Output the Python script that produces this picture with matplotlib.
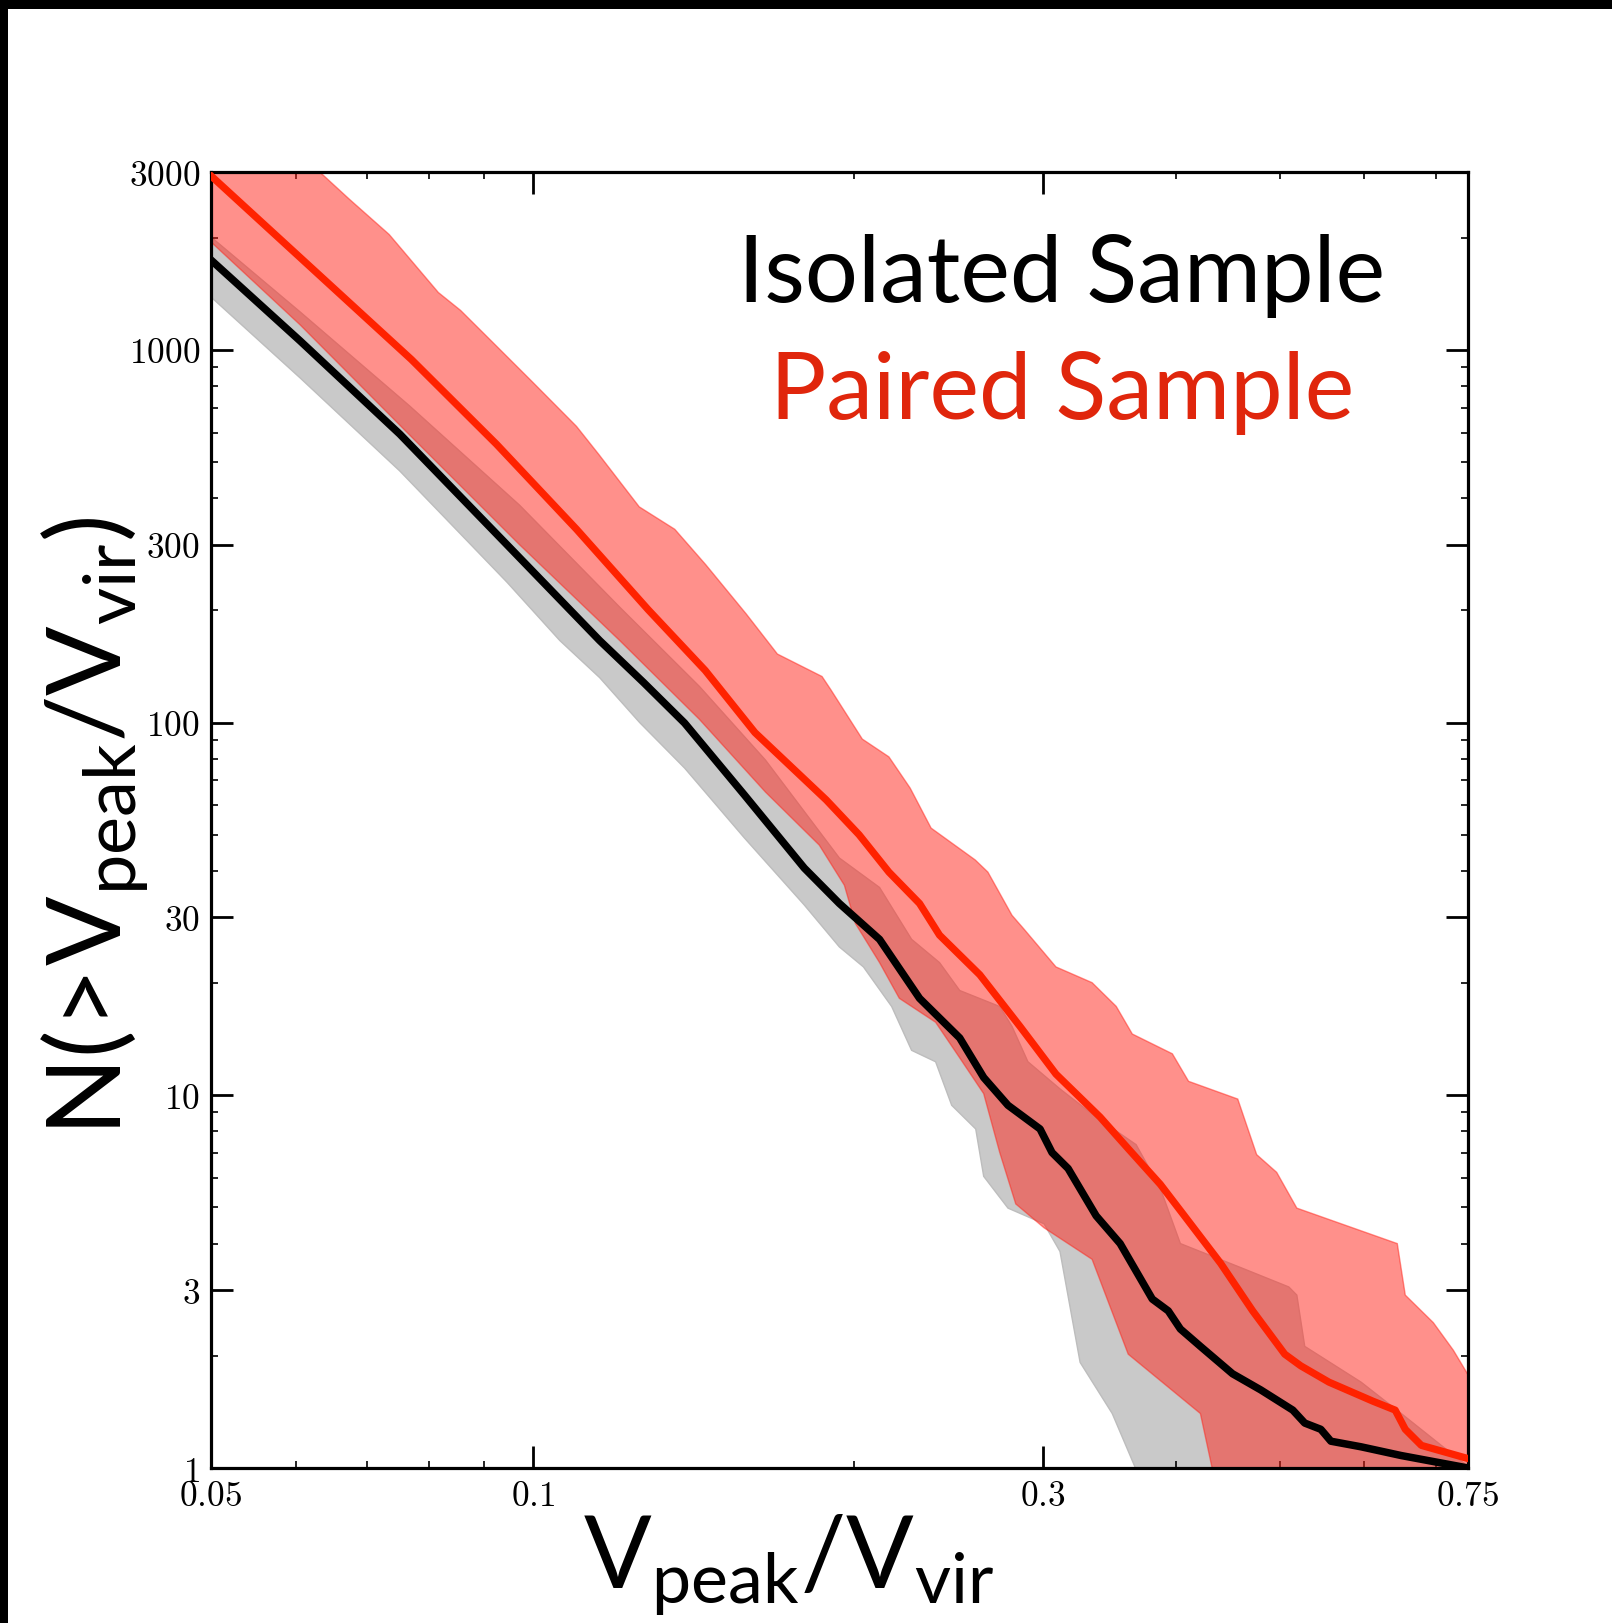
import matplotlib
matplotlib.use("Agg")
import matplotlib.pyplot as plt
from matplotlib.ticker import FixedLocator, FixedFormatter, NullFormatter
from matplotlib.patches import Rectangle

plt.rcParams['mathtext.fontset'] = 'cm'
plt.rcParams['mathtext.rm'] = 'Lato'
plt.rcParams['mathtext.it'] = 'Lato:italic'
plt.rcParams['mathtext.bf'] = 'Lato:bold'

# ---------------- data ----------------
# Isolated sample: median
iso_x = [0.05, 0.0606, 0.0751, 0.0946, 0.1155, 0.1270, 0.1387, 0.1578, 0.1795, 0.1936,
         0.2111, 0.2301, 0.2509, 0.2642, 0.2784, 0.2983, 0.3061, 0.3169, 0.3366, 0.3545,
         0.3799, 0.3932, 0.4036, 0.4214, 0.4516, 0.4799, 0.5142, 0.5276, 0.5462, 0.5582,
         0.5956, 0.6495, 0.75]
iso_n = [1742, 1056, 594, 300, 166, 128, 99.7, 63.9, 40.7, 32.7,
         26.2, 18.2, 14.25, 11.16, 9.40, 8.12, 7.02, 6.36, 4.75, 4.0,
         2.84, 2.64, 2.36, 2.12, 1.79, 1.62, 1.43, 1.32, 1.27, 1.18,
         1.14, 1.08, 1.0]

# Isolated sample: scatter band
iso_lo_x = [0.05, 0.0606, 0.0751, 0.0946, 0.106, 0.1155, 0.1259, 0.1387, 0.1578, 0.1795,
            0.1936, 0.2039, 0.2167, 0.2262, 0.2382, 0.2466, 0.2597, 0.2642, 0.2784, 0.3009,
            0.3114, 0.3252, 0.3485, 0.3669, 0.40, 0.75]
iso_lo_n = [1386, 840, 473, 238, 166, 132, 100, 75.5, 49.0, 32.4,
            25.0, 22.1, 17.3, 13.2, 12.3, 9.40, 8.12, 6.06, 4.98, 4.52,
            3.81, 1.92, 1.40, 0.99, 0.5, 0.5]
iso_hi_x = [0.05, 0.0606, 0.0767, 0.0972, 0.1206, 0.1432, 0.1651, 0.1776, 0.1936, 0.2111,
            0.2262, 0.2402, 0.2509, 0.2735, 0.2808, 0.2906, 0.3114, 0.3366, 0.3669, 0.3865,
            0.4036, 0.4595, 0.5098, 0.5187, 0.5276, 0.5956, 0.6495, 0.708, 0.75]
iso_hi_n = [2008, 1263, 707, 383, 204, 125, 79.3, 60.1, 43.3, 36.1,
            26.2, 22.7, 19.1, 17.3, 15.3, 12.3, 10.4, 8.74, 7.37, 5.63,
            4.0, 3.45, 3.06, 2.91, 2.12, 1.70, 1.40, 1.15, 1.01]

# Paired sample: median
pair_x = [0.05, 0.0770, 0.0925, 0.1099, 0.1282, 0.1450, 0.1614, 0.1882, 0.2020, 0.2154,
          0.2301, 0.2402, 0.2620, 0.2857, 0.3087, 0.3395, 0.3607, 0.3865, 0.4071, 0.4402,
          0.4716, 0.5054, 0.5231, 0.5558, 0.6114, 0.6411, 0.6552, 0.6783, 0.75]
pair_n = [2930, 942, 558, 330, 201, 138, 94.0, 62.0, 50.0, 39.7,
          32.7, 26.9, 21.05, 15.3, 11.4, 8.74, 7.19, 5.77, 4.75, 3.54,
          2.64, 2.02, 1.88, 1.70, 1.51, 1.43, 1.27, 1.15, 1.06]

# Paired sample: scatter band
pair_lo_x = [0.05, 0.0606, 0.0767, 0.0972, 0.1206, 0.1432, 0.1651, 0.1854, 0.1957, 0.2004,
             0.2111, 0.2203, 0.2382, 0.2509, 0.2642, 0.2735, 0.2831, 0.3009, 0.3337, 0.3607,
             0.4214, 0.4325, 0.75]
pair_lo_n = [1947, 1166, 591, 300, 166, 102, 65.1, 46.9, 36.6, 28.9,
             22.7, 18.2, 15.7, 12.6, 10.1, 7.02, 5.11, 4.41, 3.63, 2.02,
             1.40, 0.99, 0.5]
pair_hi_x = [0.05, 0.0632, 0.0673, 0.0734, 0.0816, 0.0856, 0.0916, 0.0999, 0.1099, 0.1153,
             0.1258, 0.1358, 0.1452, 0.1584, 0.1694, 0.1865, 0.1901, 0.2034, 0.2154, 0.2255,
             0.2359, 0.2594, 0.2666, 0.2808, 0.2882, 0.3087, 0.3337, 0.3515, 0.3639, 0.3967,
             0.4108, 0.4567, 0.4757, 0.4967, 0.5187, 0.644, 0.6552, 0.696, 0.7267, 0.75]
pair_hi_n = [6600, 3000, 2542, 2039, 1425, 1276, 1052, 821, 623, 524,
             379, 330, 265, 195.6, 152.7, 132.9, 122.4, 90.3, 80.9, 66.7,
             52.1, 42.8, 39.7, 30.4, 27.9, 22.1, 20.05, 17.32, 14.6, 12.92,
             10.9, 9.77, 6.93, 6.21, 4.98, 4.0, 2.91, 2.455, 2.07, 1.78]

x_major = [0.05, 0.1, 0.3, 0.75]
x_major_labels = ['0.05', '0.1', '0.3', '0.75']
x_minor = [0.06, 0.07, 0.08, 0.09, 0.2, 0.4, 0.5, 0.6, 0.7]
y_major = [1, 3, 10, 30, 100, 300, 1000, 3000]
y_major_labels = ['1', '3', '10', '30', '100', '300', '1000', '3000']
y_minor = [2, 4, 5, 6, 7, 8, 9, 20, 40, 50, 60, 70, 80, 90,
           200, 400, 500, 600, 700, 800, 900, 2000]

# ---------------- figure ----------------
W, H = 1612, 1623
fig = plt.figure(figsize=(W / 100, H / 100), dpi=100)
ax = fig.add_axes([211 / W, 1 - 1468 / H, (1468 - 211) / W, (1468 - 172) / H])
ax.set_xscale('log')
ax.set_yscale('log')

gray = '#c9c9c9'
band_red = '#ff2319'
ax.fill(iso_hi_x + iso_lo_x[::-1], iso_hi_n + iso_lo_n[::-1],
        facecolor=gray, edgecolor='#bdbdbd', lw=1.0, zorder=1)
ax.fill(pair_hi_x + pair_lo_x[::-1], pair_hi_n + pair_lo_n[::-1],
        facecolor=band_red, edgecolor=band_red, alpha=0.5, lw=1.0, zorder=2)
ax.plot(iso_x, iso_n, color='black', lw=5.4, zorder=3, solid_joinstyle='round')
ax.plot(pair_x, pair_n, color='#ff2200', lw=5.2, zorder=4, solid_joinstyle='round')

ax.set_xlim(0.05, 0.75)
ax.set_ylim(1, 3000)

ax.xaxis.set_major_locator(FixedLocator(x_major))
ax.xaxis.set_major_formatter(FixedFormatter([r'$\mathrm{%s}$' % s for s in x_major_labels]))
ax.xaxis.set_minor_locator(FixedLocator(x_minor))
ax.xaxis.set_minor_formatter(NullFormatter())
ax.yaxis.set_major_locator(FixedLocator(y_major))
ax.yaxis.set_major_formatter(FixedFormatter([r'$\mathrm{%s}$' % s for s in y_major_labels]))
ax.yaxis.set_minor_locator(FixedLocator(y_minor))
ax.yaxis.set_minor_formatter(NullFormatter())

ax.tick_params(which='both', direction='in', top=True, right=True, colors='black')
ax.tick_params(which='major', length=15.5, width=2.0, labelsize=25.5, pad=8)
ax.tick_params(which='minor', length=5, width=1.2)
for sp in ax.spines.values():
    sp.set_linewidth(2.3)

# annotations
ax.text(0.677, 0.8997, 'Isolated Sample', transform=ax.transAxes, ha='center',
        va='baseline', fontsize=67.5, family='Lato', color='black')
ax.text(0.677, 0.8094, 'Paired Sample', transform=ax.transAxes, ha='center',
        va='baseline', fontsize=67.5, family='Lato', color='#e0260c')

# axis labels
fig.text(789 / W, 1 - 1589 / H,
         r'$\mathrm{V}_{\mathrm{peak}}\mathrm{/V}_{\mathrm{vir}}$',
         ha='center', va='baseline', fontsize=72, math_fontfamily='custom')
fig.text(120 / W, 1 - 826 / H,
         r'$\mathrm{N(}\!>\!\mathrm{V}_{\mathrm{peak}}\mathrm{/V}_{\mathrm{vir}}\mathrm{)}$',
         ha='center', va='baseline', rotation=90, rotation_mode='anchor',
         fontsize=74, math_fontfamily='custom')

# black frame on top and left edges
fig.add_artist(Rectangle((0, 1 - 9 / H), 1, 9 / H, transform=fig.transFigure,
                         facecolor='black', edgecolor='none'))
fig.add_artist(Rectangle((0, 0), 8 / W, 1, transform=fig.transFigure,
                         facecolor='black', edgecolor='none'))

fig.savefig('out.png', dpi=100)
